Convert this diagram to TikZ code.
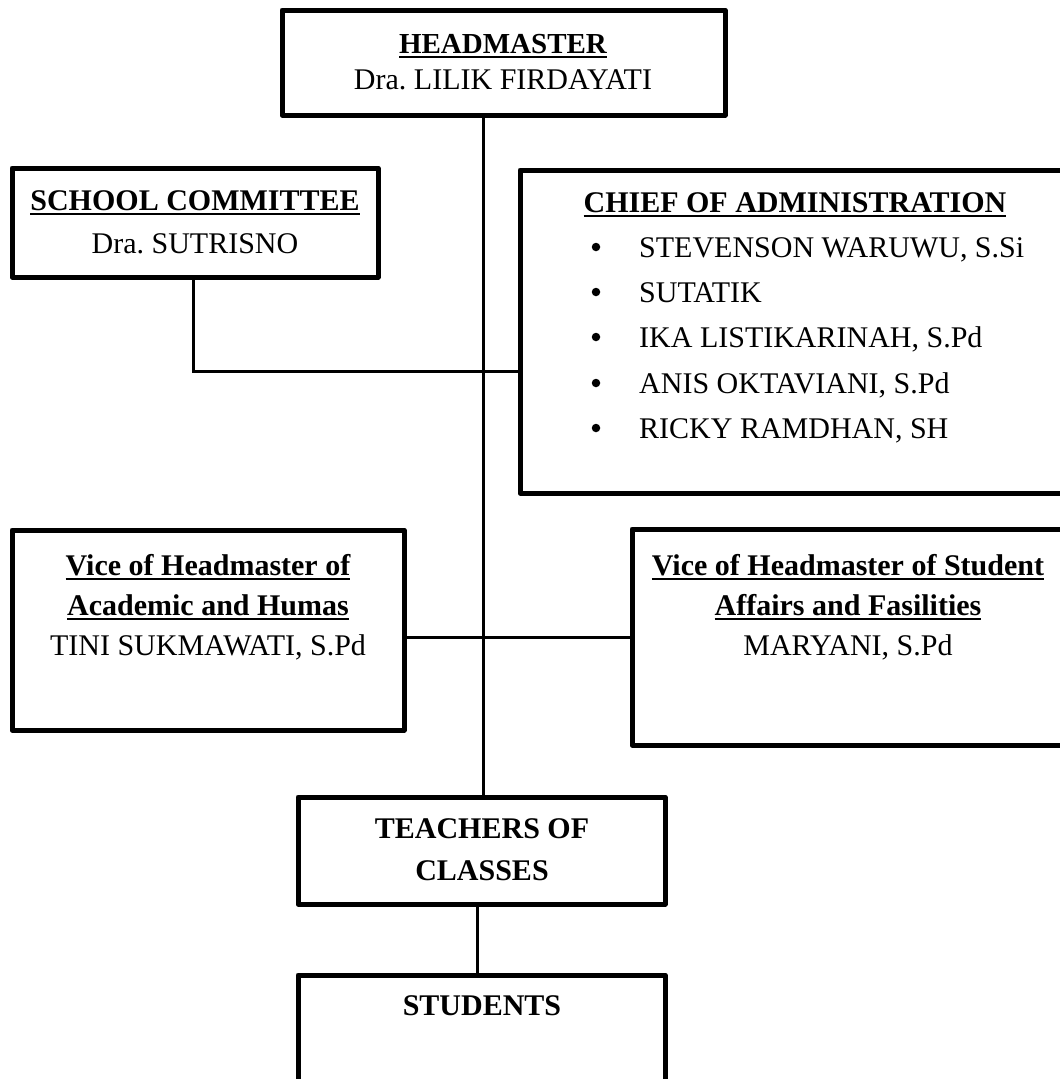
\documentclass[tikz,border=0pt]{standalone}
\usepackage{fontspec}
\setmainfont{Liberation Serif}
\frenchspacing
\newcommand\myul[1]{\setbox0\hbox{#1}\rlap{\rule[-4.5pt]{\wd0}{2pt}}\box0}
\begin{document}
\begin{tikzpicture}[x=1pt,y=-1pt,
  box/.style={draw=black,line width=5pt,line join=round},
  link/.style={draw=black,line width=3pt},
  dot/.style={circle,fill=black,inner sep=0pt,minimum size=8.5pt},
  txt/.style={anchor=base,inner sep=0pt,font=\fontsize{30}{36}\selectfont},
  htxt/.style={txt,font=\fontsize{29}{34}\selectfont\bfseries},
  btxt/.style={txt,font=\fontsize{30}{36}\selectfont\bfseries}]
\frenchspacing
\clip (0,0) rectangle (1060,1079);
% boxes
\path[box] (282,10) rectangle (725,115);
\coordinate (headB) at (483,115);
\path[box] (12,168) rectangle (378,277);
\coordinate (schB) at (193,277);
\path[box] (520,170) rectangle (1075,493);
\coordinate (chiefL) at (520,371);
\path[box] (12,530) rectangle (404,730);
\coordinate (vlR) at (404,637);
\path[box] (632,529) rectangle (1066,745);
\coordinate (vrL) at (632,637);
\path[box] (298,797) rectangle (665,904);
\coordinate (teachT) at (483,797);
\coordinate (teachB) at (477,904);
\path[box] (298,975) rectangle (665,1100);
\coordinate (studT) at (477,975);
% texts
\node[htxt] (h1) at (503,53) {\myul{HEADMASTER}};
\node[txt] (h2) at (503,89) {Dra. LILIK FIRDAYATI};
\node[btxt] (s1) at (195,210) {\myul{SCHOOL COMMITTEE}};
\node[txt] (s2) at (195,253) {Dra. SUTRISNO};
\node[btxt] (c0) at (795,212) {\myul{CHIEF OF ADMINISTRATION}};
\foreach \t/\y [count=\i] in {{STEVENSON WARUWU, S.Si}/257,{SUTATIK}/302,{IKA LISTIKARINAH, S.Pd}/347,{ANIS OKTAVIANI, S.Pd}/393,{RICKY RAMDHAN, SH}/438}{
  \node[dot] (cb\i) at (596,\y-10) {};
  \node[txt,anchor=base west] (ci\i) at (639,\y) {\t};
}
\node[btxt] (vl1) at (208,575) {\myul{Vice of Headmaster of}};
\node[btxt] (vl2) at (208,615) {\myul{Academic and Humas}};
\node[txt] (vl3) at (208,655) {TINI SUKMAWATI, S.Pd};
\node[btxt] (vr1) at (848,575) {\myul{Vice of Headmaster of Student}};
\node[btxt] (vr2) at (848,615) {\myul{Affairs and Fasilities}};
\node[txt] (vr3) at (848,655) {MARYANI, S.Pd};
\node[btxt] (t1) at (482,838) {TEACHERS OF};
\node[btxt] (t2) at (482,880) {CLASSES};
\node[btxt] (st) at (482,1015) {STUDENTS};
% connectors
\draw[link] (headB) -- (teachT);
\draw[link] (schB) |- (chiefL);
\draw[link] (vlR) -- (vrL);
\draw[link] (teachB) -- (studT);
\end{tikzpicture}
\end{document}
